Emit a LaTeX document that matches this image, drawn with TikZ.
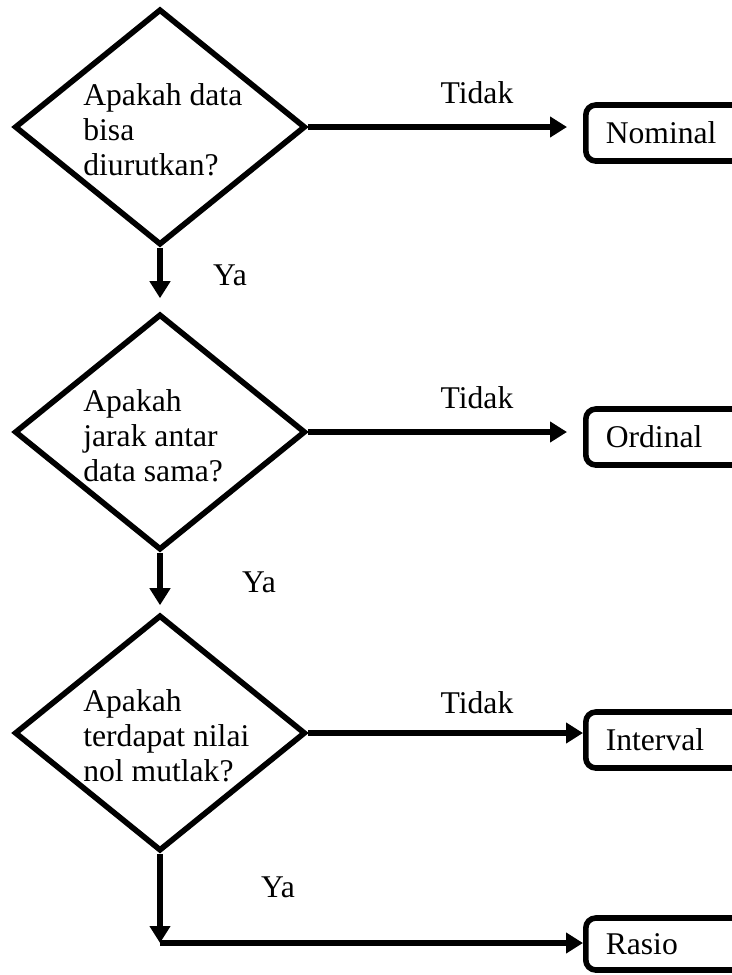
\documentclass[tikz,border=0pt]{standalone}
\usepackage{fontspec}
\setmainfont{Liberation Serif}
\usetikzlibrary{arrows.meta, positioning, shapes.geometric}

\begin{document}
\begin{tikzpicture}[
    x=0.02cm, y=-0.02cm,
    every node/.style={font=\fontsize{18pt}{19.8pt}\selectfont},
    decision/.style={draw, diamond, line width=3.2pt, minimum width=5.82cm,
                     minimum height=4.72cm, inner sep=0pt},
    question/.style={anchor=west, align=left, inner sep=0pt},
    result/.style={draw, rounded corners=0.2cm, line width=3.2pt, anchor=west,
                   minimum height=1.12cm, text width=6cm, inner xsep=0.4cm,
                   align=left},
    answer/.style={inner sep=0pt},
    flow/.style={-{Triangle[length=0.34cm, width=0.4cm]}, line width=3.2pt},
  ]
  \path[use as bounding box, clip] (0,0) rectangle (732,975);

  % questions
  \node[decision] (q1) at (160,127) {};
  \node[decision] (q2) at (160,432) {};
  \node[decision] (q3) at (160,733) {};
  \node[question] (q1txt) at (83,130) {Apakah data\\bisa\\diurutkan?};
  \node[question] (q2txt) at (83,436) {Apakah\\jarak antar\\data sama?};
  \node[question] (q3txt) at (83,736) {Apakah\\terdapat nilai\\nol mutlak?};

  % scales
  \node[result] (nominal)  at (583,133) {Nominal};
  \node[result] (ordinal)  at (583,437) {Ordinal};
  \node[result] (interval) at (583,740) {Interval};
  \node[result, minimum height=1.04cm] (rasio) at (583,944) {Rasio};
  \coordinate (corner) at (160,943);

  % Tidak
  \draw[flow, shorten >=0.32cm] (q1.east) -- (q1.east -| nominal.west);
  \draw[flow, shorten >=0.32cm] (q2.east) -- (q2.east -| ordinal.west);
  \draw[flow] (q3.east) -- (q3.east -| interval.west);
  \node[answer] (no1) at (477,93)  {Tidak};
  \node[answer] (no2) at (477,398) {Tidak};
  \node[answer] (no3) at (477,703) {Tidak};

  % Ya
  \draw[flow, shorten >=0.26cm] (q1.south) -- (q2.north);
  \draw[flow, shorten >=0.14cm] (q2.south) -- (q3.north);
  \draw[flow] (q3.south) -- (corner);
  \draw[flow] (corner) -- (corner -| rasio.west);
  \node[answer] (yes1) at (230,275) {Ya};
  \node[answer] (yes2) at (259,582) {Ya};
  \node[answer] (yes3) at (278,887) {Ya};
\end{tikzpicture}
\end{document}
